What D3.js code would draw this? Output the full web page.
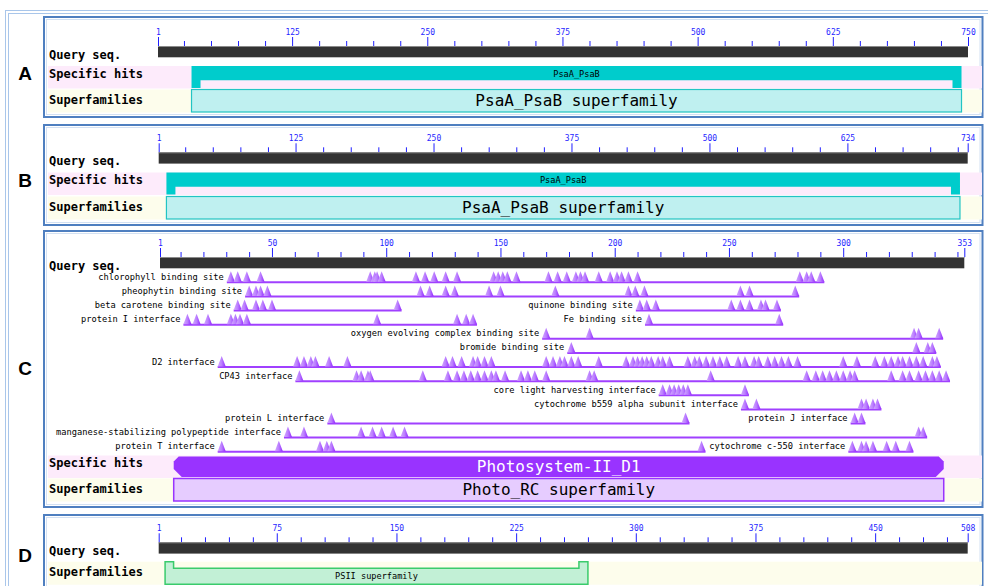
<!DOCTYPE html>
<html lang="en">
<head>
<meta charset="utf-8"/>
<title>Conserved domain hits</title>
<script src="https://d3js.org/d3.v7.min.js"></script>
<style>
  body { margin: 0; background: #fff; }
  .ruler text { fill: #1f1fff; font: 8px "DejaVu Sans Mono", monospace; }
  .ruler line { stroke: #1f1fff; }
  .rowlab { font: bold 12px "DejaVu Sans Mono", monospace; fill: #000; }
  .sitelab { font: 8.7px "DejaVu Sans Mono", monospace; fill: #000; }
  .big { font: 16px "DejaVu Sans Mono", monospace; }
  .small { font: 8.6px "DejaVu Sans Mono", monospace; fill: #000; }
  .letter { font: bold 19px "Liberation Sans", Arial, sans-serif; fill: #000; }
</style>
</head>
<body>
<div id="chart"></div>
<script>
// ---- data ----
var panelNames = ["A", "B", "C", "D"];
var queryLengths = [750, 734, 353, 508];
var majorSteps = [125, 125, 50, 75];
var minorSteps = [25, 25, 10, 15];

var specificHits = [
  {panel: 0, name: "PsaA_PsaB", from: 32, to: 744},
  {panel: 1, name: "PsaA_PsaB", from: 8, to: 727},
  {panel: 2, name: "Photosystem-II_D1", from: 7, to: 344}
];

var superfamilies = [
  {panel: 0, name: "PsaA_PsaB superfamily", from: 32, to: 744},
  {panel: 1, name: "PsaA_PsaB superfamily", from: 8, to: 727},
  {panel: 2, name: "Photo_RC superfamily", from: 7, to: 344},
  {panel: 3, name: "PSII superfamily", from: 5, to: 270}
];

// conserved feature sites of panel C (row, name, residues)
var sites = [
  {row: 0, name: "chlorophyll binding site", residues: [32,35,39,45,93,95,96,98,113,117,121,126,131,147,149,151,153,157,171,175,179,183,185,187,193,198,201,203,206,210,281,284,286,290]},
  {row: 1, name: "pheophytin binding site", residues: [40,43,45,48,115,119,126,130,145,150,174,206,209,213,255,259,279]},
  {row: 2, name: "beta carotene binding site", residues: [35,38,43,46,50,105]},
  {row: 2, name: "quinone binding site", residues: [211,214,218,251,255,259,264,266,271]},
  {row: 3, name: "protein I interface", residues: [13,17,22,32,34,36,39,96,131,135,138]},
  {row: 3, name: "Fe binding site", residues: [215,272]},
  {row: 4, name: "oxygen evolving complex binding site", residues: [170,189,331,333,342]},
  {row: 5, name: "bromide binding site", residues: [181,332,337,339]},
  {row: 6, name: "D2 interface", residues: [28,61,64,67,69,75,83,126,129,133,138,140,143,146,170,173,176,178,181,184,193,205,208,210,212,214,216,219,221,224,232,235,237,240,243,246,249,254,257,261,263,267,270,273,276,280,300,306,314,318,321,324,326,329,332,335,339,341]},
  {row: 7, name: "CP43 interface", residues: [62,87,89,92,93,116,127,131,134,137,140,143,146,148,152,159,162,165,170,189,191,242,284,288,291,294,297,300,303,305,321,326,329,333,336,339,342,345]},
  {row: 8, name: "core light harvesting interface", residues: [221,224,226,228,230,232,257]},
  {row: 9, name: "cytochrome b559 alpha subunit interface", residues: [257,262,308,310,313,315]},
  {row: 10, name: "protein L interface", residues: [76,231]},
  {row: 10, name: "protein J interface", residues: [305,308]},
  {row: 11, name: "manganese-stabilizing polypeptide interface", residues: [57,64,89,94,98,103,108,333,335]},
  {row: 12, name: "protein T interface", residues: [28,53,71,74,76,238]},
  {row: 12, name: "cytochrome c-550 interface", residues: [304,308,310,313,319,323,329]}
];

// ---- layout ----
var width = 988, height = 586;
var layout = [
  {top: 17,  bottom: 117, letterY: 73,  axisY: 46,    xr: [158, 968],     specY: 66,    supY: 89.5},
  {top: 125, bottom: 225, letterY: 180, axisY: 152.3, xr: [158.7, 967.7], specY: 172.5, supY: 196.5},
  {top: 231, bottom: 507, letterY: 368, axisY: 257,   xr: [160, 964.3],   specY: 455.5, supY: 478.5, siteY: 282.3},
  {top: 515, bottom: 620, letterY: 555, axisY: 542.3, xr: [158.7, 967.7], specY: null,  supY: 561.7}
];
var rowStep = 14.12;

var svg = d3.select("#chart").append("svg")
  .attr("width", width)
  .attr("height", height);

var defs = svg.append("defs");
var grad = defs.append("linearGradient").attr("id", "siteFill");
grad.append("stop").attr("offset", "0%").attr("stop-color", "#d2a6ff");
grad.append("stop").attr("offset", "50%").attr("stop-color", "#bb80ff");
grad.append("stop").attr("offset", "100%").attr("stop-color", "#9226ff");

// outer double frame
svg.append("rect").attr("x", 5.5).attr("y", 10.5).attr("width", 1000).attr("height", 600)
  .attr("fill", "none").attr("stroke", "#a9c6ea");
svg.append("rect").attr("x", 8.5).attr("y", 13.5).attr("width", 1000).attr("height", 600)
  .attr("fill", "none").attr("stroke", "#a9c6ea");

layout.forEach(function(L, p) {
  var len = queryLengths[p];
  var x = d3.scaleLinear().domain([1, len]).range(L.xr);
  var g = svg.append("g");

  // panel box
  g.append("rect").attr("x", 44).attr("y", L.top).attr("width", 938.5).attr("height", L.bottom - L.top)
    .attr("fill", "#fff").attr("stroke", "#4f7fc0").attr("stroke-width", 2);
  g.append("rect").attr("x", 46.5).attr("y", L.top + 2.5).attr("width", 933.5).attr("height", L.bottom - L.top - 5)
    .attr("fill", "none").attr("stroke", "#d3e1f3").attr("stroke-width", 1);

  svg.append("text").attr("class", "letter")
    .attr("x", 25).attr("y", L.letterY + 7)
    .attr("text-anchor", "middle")
    .text(panelNames[p]);

  // row backgrounds
  if (L.specY !== null) {
    g.append("rect").attr("x", 48).attr("y", L.specY).attr("width", 934).attr("height", 22.5).attr("fill", "#fdebfb");
    g.append("text").attr("class", "rowlab").attr("x", 49).attr("y", L.specY + 11.5).text("Specific hits");
  }
  g.append("rect").attr("x", 48).attr("y", L.supY).attr("width", 934).attr("height", 23).attr("fill", "#fdfdec");
  g.append("text").attr("class", "rowlab").attr("x", 49).attr("y", L.supY + 14).text("Superfamilies");

  // ruler
  var step = majorSteps[p], mstep = minorSteps[p];
  var majors = [1].concat(d3.range(step, len, step).filter(function(d) { return len - d >= step / 2; })).concat([len]);
  var minors = d3.range(mstep, len, mstep).filter(function(d) { return majors.indexOf(d) < 0; });

  g.append("g").attr("class", "ruler")
    .attr("transform", "translate(0," + L.axisY + ")")
    .call(d3.axisTop(x).tickValues(minors).tickSize(5).tickFormat(""))
    .select(".domain").remove();
  g.append("g").attr("class", "ruler")
    .attr("transform", "translate(0," + L.axisY + ")")
    .call(d3.axisTop(x).tickValues(majors).tickSize(9).tickPadding(2).tickFormat(d3.format("d")))
    .select(".domain").remove();

  // query bar
  g.append("rect").attr("x", x(1)).attr("y", L.axisY).attr("width", x(len) - x(1)).attr("height", 11.3)
    .attr("fill", "#333");
  g.append("line").attr("x1", x(1)).attr("x2", x(len)).attr("y1", L.axisY + 0.5).attr("y2", L.axisY + 0.5)
    .attr("stroke", "#8a8a8a");
  g.append("text").attr("class", "rowlab").attr("x", 49).attr("y", L.axisY + 12.5).text("Query seq.");

  // specific hits
  specificHits.filter(function(d) { return d.panel === p; }).forEach(function(h) {
    var x0 = x(h.from), x1 = x(h.to), t = L.specY, b = L.specY + 22;
    if (p < 2) {
      var m = t + 14.3;
      var pts = [[x0, t], [x1, t], [x1, b], [x1 - 9, b], [x1 - 9, m], [x0 + 9, m], [x0 + 9, b], [x0, b]];
      g.append("polygon").attr("points", pts.join(" ")).attr("fill", "#00cccc");
      g.append("text").attr("class", "small").attr("x", (x0 + x1) / 2).attr("y", t + 10.5)
        .attr("text-anchor", "middle").text(h.name);
    } else {
      var tt = t + 1, bb = b - 0.5, c = 5;
      var pts2 = [[x0 + c, tt], [x1 - c, tt], [x1, tt + c], [x1, bb - c - 3], [x1 - c - 3, bb], [x0 + c + 3, bb], [x0, bb - c - 3], [x0, tt + c]];
      g.append("polygon").attr("points", pts2.join(" ")).attr("fill", "#9933ff");
      g.append("text").attr("class", "big").attr("x", (x0 + x1) / 2).attr("y", t + 16)
        .attr("text-anchor", "middle").attr("fill", "#fff").text(h.name);
    }
  });

  // superfamilies
  superfamilies.filter(function(d) { return d.panel === p; }).forEach(function(s) {
    var x0 = x(s.from), x1 = x(s.to), t = L.supY, b = L.supY + 22.5;
    if (p < 2) {
      g.append("rect").attr("x", x0).attr("y", t).attr("width", x1 - x0).attr("height", b - t)
        .attr("fill", "#bff0f0").attr("stroke", "#22c4c4").attr("stroke-width", 1.2);
      g.append("text").attr("class", "big").attr("x", (x0 + x1) / 2).attr("y", t + 16)
        .attr("text-anchor", "middle").attr("fill", "#000").text(s.name);
    } else if (p === 2) {
      g.append("rect").attr("x", x0).attr("y", t).attr("width", x1 - x0).attr("height", b - t)
        .attr("fill", "#e6ccff").attr("stroke", "#9933ff").attr("stroke-width", 1.5);
      g.append("text").attr("class", "big").attr("x", (x0 + x1) / 2).attr("y", t + 16.5)
        .attr("text-anchor", "middle").attr("fill", "#000").text(s.name);
    } else {
      var n = t + 6.5;
      var pts3 = [[x0, t], [x0 + 8.5, t], [x0 + 8.5, n], [x1 - 9, n], [x1 - 9, t], [x1, t], [x1, b], [x0, b]];
      g.append("polygon").attr("points", pts3.join(" "))
        .attr("fill", "#c2f0d6").attr("stroke", "#3acb6c").attr("stroke-width", 1.5);
      g.append("text").attr("class", "small").attr("x", (x0 + x1) / 2).attr("y", t + 17)
        .attr("text-anchor", "middle").text(s.name);
    }
  });

  // feature sites
  if (L.siteY) {
    sites.forEach(function(s) {
      var base = L.siteY + rowStep * s.row;
      var lo = x(d3.min(s.residues)) - 4, hi = x(d3.max(s.residues)) + 4;
      g.append("line").attr("x1", lo).attr("x2", hi).attr("y1", base).attr("y2", base)
        .attr("stroke", "#a040ff").attr("stroke-width", 2);
      g.append("g").selectAll("polygon")
        .data(s.residues)
        .enter().append("polygon")
          .attr("points", function(r) {
            var cx = x(r);
            return [[cx - 4, base - 0.5], [cx, base - 11], [cx + 4, base - 0.5]].join(" ");
          })
          .attr("fill", "url(#siteFill)");
      g.append("text").attr("class", "sitelab")
        .attr("x", lo - 3).attr("y", base - 2.5)
        .attr("text-anchor", "end")
        .text(s.name);
    });
  }
});
</script>
</body>
</html>
